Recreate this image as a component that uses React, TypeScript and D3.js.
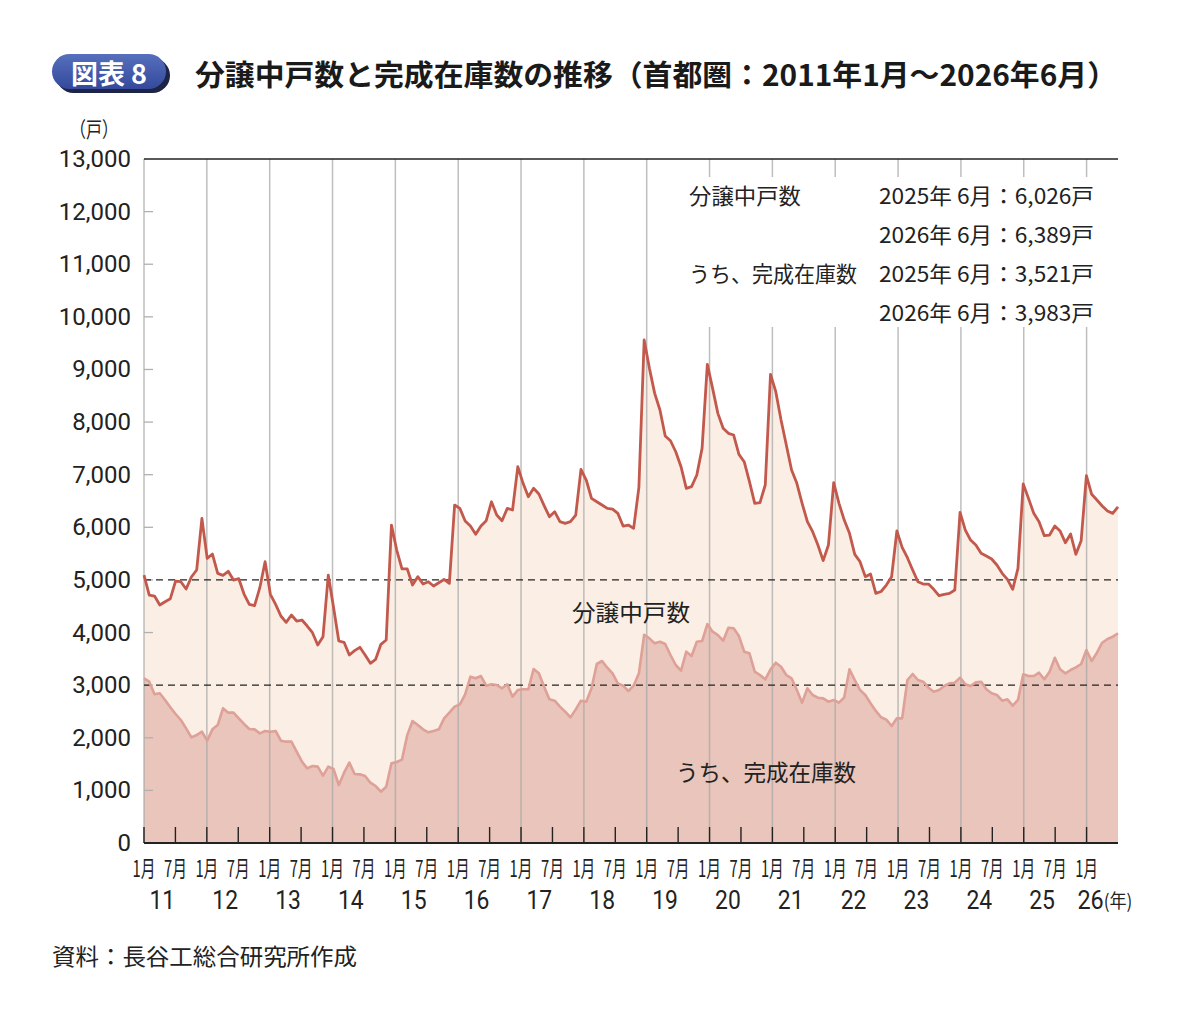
import React from 'react';
import * as d3 from 'd3';

// 分譲中戸数 (monthly, 2011/01 - 2026/06)
const totalUnits: number[] = [
  5093, 4713, 4694, 4523, 4586, 4643, 4979, 4966, 4827, 5055, 5188, 6170,
  5410, 5492, 5125, 5087, 5163, 4998, 5023, 4732, 4536, 4510, 4852, 5346,
  4726, 4536, 4314, 4194, 4333, 4219, 4238, 4124, 3997, 3763, 3921, 5093,
  4480, 3839, 3814, 3573, 3655, 3719, 3573, 3415, 3491, 3776, 3858, 6043,
  5568, 5210, 5210, 4903, 5062, 4922, 4966, 4884, 4947, 5011, 4935, 6423,
  6360, 6119, 6024, 5866, 6024, 6125, 6486, 6233, 6125, 6360, 6329, 7152,
  6836, 6582, 6741, 6633, 6411, 6202, 6297, 6107, 6075, 6107, 6233, 7101,
  6899, 6550, 6486, 6423, 6360, 6347, 6265, 6024, 6043, 5980, 6760, 9560,
  9021, 8546, 8229, 7735, 7645, 7436, 7152, 6741, 6773, 6994, 7500, 9097,
  8641, 8166, 7881, 7786, 7754, 7387, 7247, 6867, 6456, 6468, 6804, 8907,
  8577, 8039, 7564, 7089, 6836, 6456, 6107, 5917, 5663, 5366, 5663, 6848,
  6456, 6138, 5885, 5486, 5347, 5062, 5112, 4745, 4780, 4903, 5062, 5930,
  5619, 5422, 5188, 4966, 4922, 4922, 4821, 4700, 4726, 4745, 4808, 6284,
  5948, 5758, 5663, 5505, 5454, 5397, 5283, 5125, 5011, 4821, 5220, 6823,
  6550, 6265, 6107, 5841, 5853, 6026, 5930, 5708, 5873, 5486, 5746, 6981,
  6627, 6519, 6405, 6310, 6265, 6389,
];

// うち、完成在庫数
const completedStock: number[] = [
  3130, 3066, 2826, 2845, 2718, 2579, 2452, 2338, 2179, 2008, 2052, 2115,
  1945, 2160, 2242, 2559, 2477, 2477, 2369, 2262, 2167, 2160, 2084, 2129,
  2115, 2129, 1945, 1926, 1926, 1736, 1546, 1419, 1464, 1451, 1280, 1451,
  1406, 1102, 1337, 1527, 1311, 1305, 1273, 1146, 1083, 975, 1070, 1515,
  1540, 1585, 2050, 2319, 2242, 2160, 2103, 2129, 2160, 2369, 2477, 2591,
  2635, 2826, 3161, 3130, 3174, 2990, 3016, 3003, 2940, 3016, 2781, 2908,
  2921, 2921, 3307, 3225, 2971, 2730, 2705, 2591, 2496, 2388, 2540, 2705,
  2686, 2940, 3402, 3459, 3332, 3225, 3035, 2990, 2889, 2990, 3225, 3958,
  3890, 3795, 3826, 3782, 3573, 3383, 3275, 3636, 3554, 3826, 3839, 4162,
  4016, 3953, 3845, 4092, 4080, 3934, 3636, 3605, 3256, 3193, 3111, 3301,
  3427, 3351, 3193, 3130, 2908, 2667, 2940, 2813, 2762, 2749, 2686, 2718,
  2667, 2768, 3301, 3098, 2908, 2813, 2655, 2510, 2390, 2345, 2224, 2369,
  2369, 3098, 3212, 3098, 3066, 2952, 2876, 2908, 2984, 3035, 3047, 3142,
  3016, 2984, 3054, 3066, 2921, 2845, 2813, 2705, 2730, 2610, 2718, 3206,
  3174, 3174, 3237, 3111, 3256, 3521, 3301, 3225, 3288, 3339, 3402, 3668,
  3459, 3617, 3807, 3877, 3921, 3983,
];

const yearLabels: string[] = ['11', '12', '13', '14', '15', '16', '17', '18', '19', '20', '21', '22', '23', '24', '25', '26'];
const monthLabels: string[] = ['1月', '7月'];
const yTicks: number[] = [0, 1000, 2000, 3000, 4000, 5000, 6000, 7000, 8000, 9000, 10000, 11000, 12000, 13000];
const refLines: number[] = [5000, 3000];
const annotationLabels: string[] = ['分譲中戸数', '', 'うち、完成在庫数', ''];
const annotationValues: string[] = ['2025年 6月：6,026戸', '2026年 6月：6,389戸', '2025年 6月：3,521戸', '2026年 6月：3,983戸'];

const TITLE = '分譲中戸数と完成在庫数の推移（首都圏：2011年1月～2026年6月）';
const BADGE = '図表 8';
const UNIT = '（戸）';
const SOURCE = '資料：長谷工総合研究所作成';
const LABEL_TOTAL = '分譲中戸数';
const LABEL_STOCK = 'うち、完成在庫数';

const JP = "'Noto Sans CJK JP', 'Noto Sans', sans-serif";
const NUM = "Roboto, 'Noto Sans', sans-serif";

export default function App() {
  const W = 1188;
  const H = 1018;
  const plot = { left: 144, right: 1118, top: 159, bottom: 843 };

  const y = d3.scaleLinear().domain([0, 13000]).range([plot.bottom, plot.top]);
  const xData = d3.scaleLinear().domain([0, totalUnits.length - 1]).range([plot.left, plot.right]);
  const xAxis = d3.scaleLinear().domain([0, totalUnits.length]).range([plot.left, plot.right]);

  const areaGen = d3
    .area<number>()
    .x((_, i) => xData(i))
    .y0(y(0))
    .y1((d) => y(d));
  const lineGen = d3
    .line<number>()
    .x((_, i) => xData(i))
    .y((d) => y(d));

  const janIdx = d3.range(0, totalUnits.length, 12);
  const tickIdx = d3.range(0, 181, 6);

  return (
    <svg
      width={W}
      height={H}
      viewBox={`0 0 ${W} ${H}`}
      style={{ position: 'absolute', left: 0, top: 0, background: '#fff' }}
    >
      <defs>
        <linearGradient id="badgeGrad" x1="0" y1="0" x2="0" y2="1">
          <stop offset="0" stopColor="#5670bd" />
          <stop offset="1" stopColor="#34499b" />
        </linearGradient>
      </defs>
      <rect x={0} y={0} width={W} height={H} fill="#fff" />

      {/* Badge and title */}
      <rect x={56} y={58} width={114} height={35} rx={17.5} fill="#1d2445" />
      <rect x={52} y={54} width={114} height={35} rx={17.5} fill="url(#badgeGrad)" />
      <text x={109} y={72} fill="#fff" fontFamily={JP} fontSize={27} fontWeight={700} textAnchor="middle" dominantBaseline="central" textLength={76} lengthAdjust="spacingAndGlyphs">
        {BADGE}
      </text>
      <text x={195} y={73} fill="#1a1a1a" fontFamily={JP} fontSize={29} fontWeight={700} dominantBaseline="central" textLength={922} lengthAdjust="spacingAndGlyphs">
        {TITLE}
      </text>

      {/* Unit */}
      <text x={94} y={128} fill="#222" fontFamily={JP} fontSize={21} textAnchor="middle" dominantBaseline="central" textLength={48} lengthAdjust="spacingAndGlyphs">
        {UNIT}
      </text>

      {/* Areas */}
      <path d={areaGen(totalUnits) || ''} fill="#fbefe5" />
      <path d={areaGen(completedStock) || ''} fill="#e9c5bb" />

      {/* Gridlines */}
      {janIdx.map((i) => (
        <line key={`g${i}`} x1={xAxis(i)} x2={xAxis(i)} y1={plot.top} y2={plot.bottom} stroke="#a8a8a8" strokeOpacity={0.75} strokeWidth={1.5} />
      ))}
      {yTicks.slice(1, -1).map((v) => (
        <line key={`yt${v}`} x1={plot.left} x2={plot.left + 9} y1={y(v)} y2={y(v)} stroke="#b0b0b0" strokeWidth={1.3} />
      ))}

      {/* Reference dashed lines */}
      {refLines.map((v) => (
        <line key={`r${v}`} x1={plot.left} x2={plot.right} y1={y(v)} y2={y(v)} stroke="#222" strokeWidth={1.4} strokeDasharray="7 5" />
      ))}

      {/* Lines */}
      <path d={lineGen(completedStock) || ''} fill="none" stroke="#dea097" strokeWidth={2.6} strokeLinejoin="round" />
      <path d={lineGen(totalUnits) || ''} fill="none" stroke="#c2594c" strokeWidth={2.8} strokeLinejoin="round" />

      {/* Annotation box */}
      <rect x={672} y={177} width={444} height={150} fill="#fff" />
      {annotationValues.map((t, k) => (
        <g key={`a${k}`}>
          {annotationLabels[k] && (
            <text
              x={689}
              y={194 + k * 39}
              fill="#222"
              fontFamily={JP}
              fontSize={22}
              dominantBaseline="central"
              textLength={annotationLabels[k].length === 5 ? 112 : 168}
              lengthAdjust="spacingAndGlyphs"
            >
              {annotationLabels[k]}
            </text>
          )}
          <text x={879} y={194 + k * 39} fill="#222" fontFamily={JP} fontSize={22} dominantBaseline="central" textLength={215} lengthAdjust="spacingAndGlyphs">
            {t}
          </text>
        </g>
      ))}

      {/* Series labels */}
      <text x={631} y={611} fill="#222" fontFamily={JP} fontSize={23} textAnchor="middle" dominantBaseline="central" textLength={118} lengthAdjust="spacingAndGlyphs">
        {LABEL_TOTAL}
      </text>
      <text x={766} y={771} fill="#222" fontFamily={JP} fontSize={23} textAnchor="middle" dominantBaseline="central" textLength={180} lengthAdjust="spacingAndGlyphs">
        {LABEL_STOCK}
      </text>

      {/* Frame */}
      <line x1={plot.left} x2={plot.right} y1={plot.top} y2={plot.top} stroke="#222" strokeWidth={1.5} />
      <line x1={plot.left} x2={plot.right} y1={plot.bottom} y2={plot.bottom} stroke="#222" strokeWidth={2} />
      {tickIdx.map((i) => (
        <line key={`t${i}`} x1={xAxis(i)} x2={xAxis(i)} y1={plot.bottom} y2={plot.bottom - 16} stroke="#222" strokeWidth={1.4} />
      ))}

      {/* Y labels */}
      {yTicks.map((v) => (
        <text key={`yl${v}`} x={131} y={y(v)} fill="#222" fontFamily={NUM} fontSize={24} textAnchor="end" dominantBaseline="central">
          {d3.format(',')(v)}
        </text>
      ))}

      {/* X labels (condensed via horizontal scale) */}
      {tickIdx.map((i) => (
        <text
          key={`ml${i}`}
          transform={`translate(${xAxis(i)},867) scale(0.64,1)`}
          fill="#222"
          fontFamily={JP}
          fontSize={23}
          textAnchor="middle"
          dominantBaseline="central"
        >
          {monthLabels[(i / 6) % 2]}
        </text>
      ))}
      {yearLabels.map((lab, k) =>
        k < yearLabels.length - 1 ? (
          <text
            key={`yr${k}`}
            transform={`translate(${xAxis(k * 12 + 3.5)},900) scale(0.88,1)`}
            fill="#222"
            fontFamily={NUM}
            fontSize={26}
            textAnchor="middle"
            dominantBaseline="central"
          >
            {lab}
          </text>
        ) : (
          <text
            key={`yr${k}`}
            transform={`translate(${xAxis(k * 12 + 3.5)},900) scale(0.9,1)`}
            fill="#222"
            fontFamily={NUM}
            fontSize={26}
            textAnchor="middle"
            dominantBaseline="central"
          >
            <tspan>{lab}</tspan>
            <tspan fontFamily={JP} fontSize={19}>(年)</tspan>
          </text>
        )
      )}

      {/* Source */}
      <text x={52} y={955} fill="#222" fontFamily={JP} fontSize={23} dominantBaseline="central" textLength={305} lengthAdjust="spacingAndGlyphs">
        {SOURCE}
      </text>
    </svg>
  );
}
